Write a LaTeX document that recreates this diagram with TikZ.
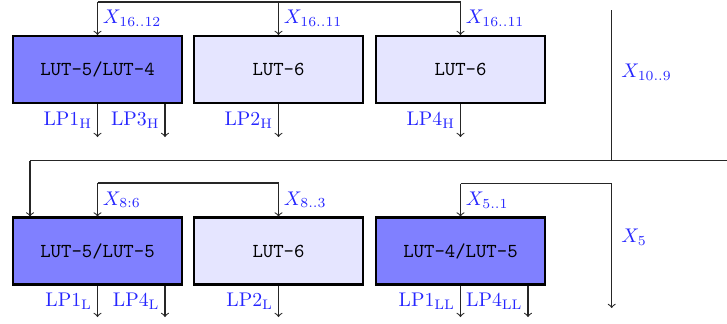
\documentclass[tikz,border=0pt]{standalone}
\begin{document}
\begin{tikzpicture}[x=0.505pt,y=-0.505pt,
  lutbox/.style={draw=black,line width=1.05pt,minimum width=85.3pt,minimum height=33.8pt,inner sep=0pt,font=\ttfamily},
  dark/.style={lutbox,fill=blue!50},
  light/.style={lutbox,fill=blue!10},
  lbl/.style={text=blue!85,inner sep=2.5pt},
  conn/.style={line width=0.55pt,draw=black!85},
  arr/.style={conn,->}]
\useasboundingbox (0,0) rectangle (727,324);
% boxes
\node[dark]  (b1) at (97.5,69.5) {LUT-5/LUT-4};
\node[light] (b2) at (278.5,69.5) {LUT-6};
\node[light] (b3) at (460.5,69.5) {LUT-6};
\node[dark]  (c1) at (97.5,251) {LUT-5/LUT-5};
\node[light] (c2) at (278.5,251) {LUT-6};
\node[dark]  (c3) at (460.5,251) {LUT-4/LUT-5};
% top inputs
\coordinate (top) at (97.5,2);
\draw[conn] (top) -- (top -| b3.north);
\draw[arr] (top) -- (b1.north) node[midway,right,lbl] {$X_{16..12}$};
\draw[arr] (top -| b2.north) -- (b2.north) node[midway,right,lbl] {$X_{16..11}$};
\draw[arr] (top -| b3.north) -- (b3.north) node[midway,right,lbl] {$X_{16..11}$};
% separator lines
\coordinate (vt) at (611.7,10);
\coordinate (vb) at (611.7,160.5);
\coordinate (hl) at (30,160.5);
\coordinate (hr) at (727,160.5);
\draw[conn] (vt) -- (vb);
\node[lbl,anchor=west] (x109) at (616,72) {$X_{10..9}$};
\draw[conn] (hl) -- (hr);
\draw[arr] (hl) -- (hl |- c1.north);
% bottom inputs
\coordinate (mid) at (97.5,183);
\draw[conn] (mid) -- (mid -| c2.north);
\draw[arr] (mid) -- (c1.north) node[midway,right,lbl] {$X_{8:6}$};
\draw[arr] (mid -| c2.north) -- (c2.north) node[midway,right,lbl] {$X_{8..3}$};
\coordinate (m3) at (460.5,183.5);
\coordinate (m4) at (611.7,183.5);
\coordinate (x5end) at (611.7,308);
\draw[arr] (m3) -- (c3.north) node[midway,right,lbl] {$X_{5..1}$};
\draw[arr] (m3) -- (m4) -- (x5end);
\node[lbl,anchor=west] (x5) at (616,237) {$X_{5}$};
% top outputs
\coordinate (o1) at (97.5,137);
\draw[arr] (b1.south) -- (b1.south |- o1) node[midway,left,lbl] {$\mathrm{LP1}_{\mathrm{H}}$};
\draw[arr] ([xshift=67.5*0.505pt]b1.south) -- ([xshift=67.5*0.505pt]b1.south |- o1) node[midway,left,lbl] {$\mathrm{LP3}_{\mathrm{H}}$};
\draw[arr] (b2.south) -- (b2.south |- o1) node[midway,left,lbl] {$\mathrm{LP2}_{\mathrm{H}}$};
\draw[arr] (b3.south) -- (b3.south |- o1) node[midway,left,lbl] {$\mathrm{LP4}_{\mathrm{H}}$};
% bottom outputs
\coordinate (o2) at (97.5,317);
\draw[arr] (c1.south) -- (c1.south |- o2) node[midway,left,lbl] {$\mathrm{LP1}_{\mathrm{L}}$};
\draw[arr] ([xshift=67.5*0.505pt]c1.south) -- ([xshift=67.5*0.505pt]c1.south |- o2) node[midway,left,lbl] {$\mathrm{LP4}_{\mathrm{L}}$};
\draw[arr] (c2.south) -- (c2.south |- o2) node[midway,left,lbl] {$\mathrm{LP2}_{\mathrm{L}}$};
\draw[arr] (c3.south) -- (c3.south |- o2) node[midway,left,lbl] {$\mathrm{LP1}_{\mathrm{LL}}$};
\draw[arr] ([xshift=67.5*0.505pt]c3.south) -- ([xshift=67.5*0.505pt]c3.south |- o2) node[midway,left,lbl] {$\mathrm{LP4}_{\mathrm{LL}}$};
\end{tikzpicture}
\end{document}
